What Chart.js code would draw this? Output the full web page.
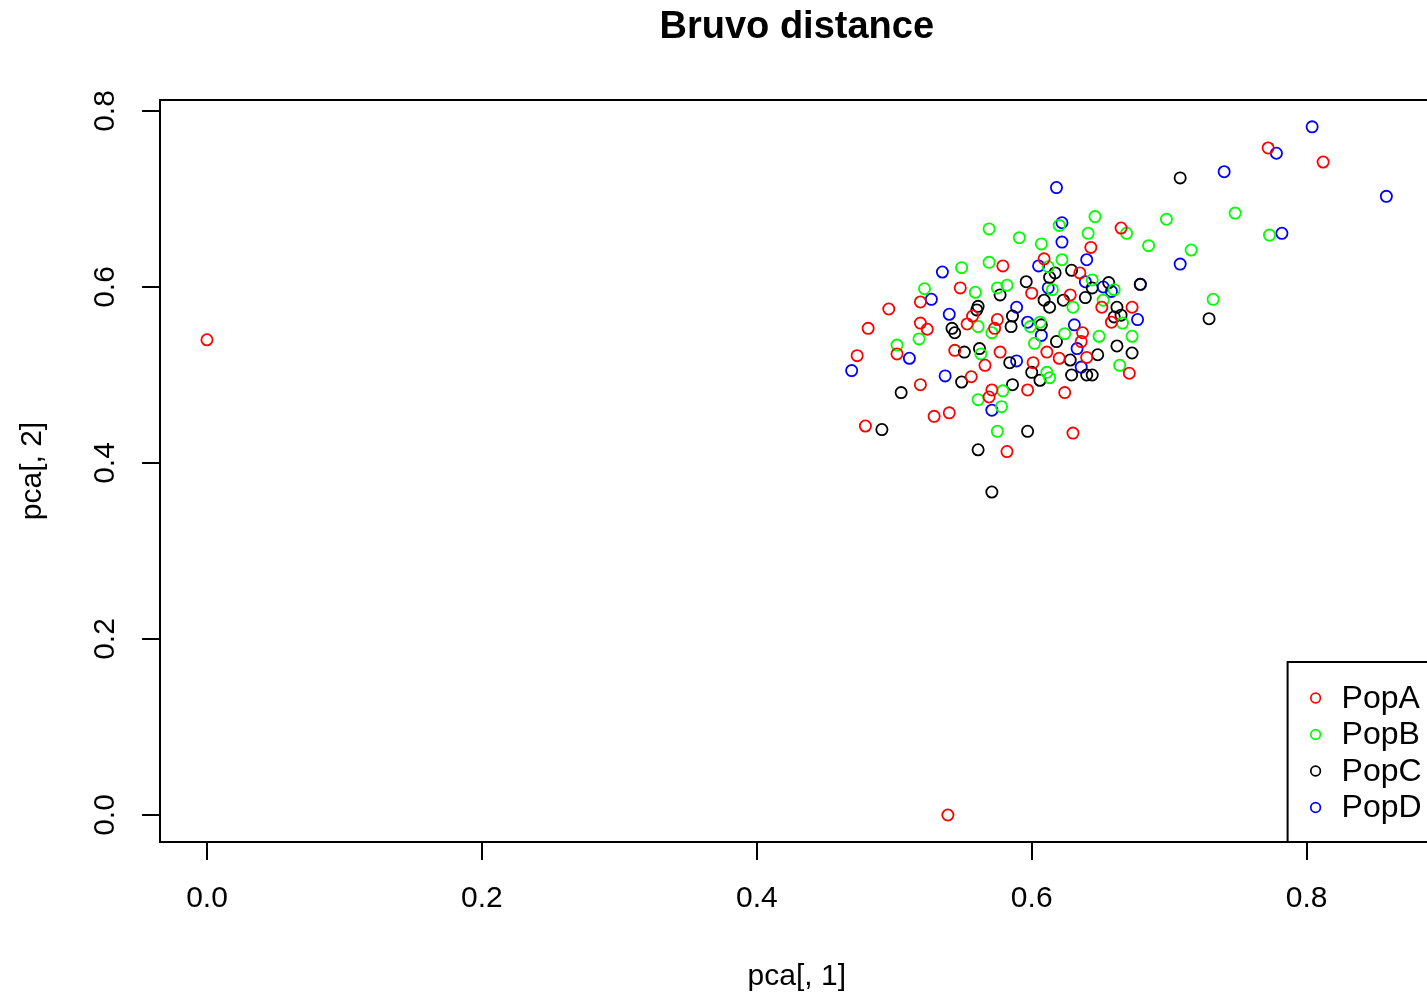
<!DOCTYPE html>
<html><head><meta charset="utf-8">
<script src="https://cdn.jsdelivr.net/npm/chart.js@4/dist/chart.umd.min.js"></script>
<style>
html,body{margin:0;padding:0;overflow:hidden;background:#fff;width:1427px;height:995px}
#clip{width:1427px;height:995px;overflow:hidden;position:relative}
#wrap{position:absolute;left:0;top:0;width:1441px;height:995px}
canvas{display:block}
</style>
</head><body>
<div id="clip"><div id="wrap"><canvas id="c"></canvas></div></div>
<script>
// ---- data ----
const popA_x = [0, 0.539, 0.772, 0.812, 0.665, 0.643, 0.609, 0.579, 0.635, 0.548, 0.600, 0.496, 0.519, 0.628, 0.651, 0.673, 0.557, 0.575, 0.481, 0.519, 0.524, 0.553, 0.573, 0.637, 0.636, 0.611, 0.544, 0.577, 0.473, 0.502, 0.620, 0.640, 0.566, 0.601, 0.671, 0.556, 0.519, 0.571, 0.569, 0.597, 0.624, 0.529, 0.540, 0.479, 0.582, 0.630, 0.658];
const popA_y = [0.540, 0.000, 0.758, 0.742, 0.667, 0.645, 0.632, 0.624, 0.616, 0.599, 0.593, 0.575, 0.583, 0.591, 0.577, 0.577, 0.567, 0.563, 0.553, 0.559, 0.552, 0.558, 0.553, 0.548, 0.538, 0.526, 0.528, 0.526, 0.522, 0.524, 0.519, 0.520, 0.511, 0.514, 0.502, 0.498, 0.489, 0.483, 0.475, 0.483, 0.480, 0.453, 0.457, 0.442, 0.413, 0.434, 0.560];

const popB_x = [0.646, 0.620, 0.641, 0.669, 0.685, 0.698, 0.748, 0.773, 0.716, 0.732, 0.569, 0.591, 0.607, 0.612, 0.569, 0.549, 0.622, 0.559, 0.582, 0.575, 0.522, 0.606, 0.644, 0.630, 0.652, 0.666, 0.624, 0.649, 0.561, 0.571, 0.599, 0.518, 0.502, 0.563, 0.602, 0.611, 0.613, 0.664, 0.579, 0.561, 0.578, 0.575, 0.673, 0.660, 0.615];
const popB_y = [0.680, 0.670, 0.661, 0.661, 0.647, 0.677, 0.684, 0.659, 0.642, 0.586, 0.666, 0.656, 0.649, 0.623, 0.628, 0.622, 0.631, 0.594, 0.602, 0.599, 0.598, 0.560, 0.608, 0.577, 0.585, 0.559, 0.547, 0.544, 0.555, 0.548, 0.555, 0.541, 0.534, 0.524, 0.536, 0.503, 0.497, 0.511, 0.482, 0.472, 0.464, 0.436, 0.544, 0.597, 0.597];

const popC_x = [0.708, 0.729, 0.679, 0.629, 0.617, 0.613, 0.596, 0.577, 0.656, 0.644, 0.639, 0.623, 0.609, 0.613, 0.561, 0.560, 0.586, 0.662, 0.660, 0.665, 0.542, 0.544, 0.585, 0.607, 0.551, 0.562, 0.584, 0.600, 0.606, 0.549, 0.586, 0.505, 0.491, 0.597, 0.561, 0.571, 0.662, 0.673, 0.628, 0.648, 0.629, 0.640, 0.644, 0.618];
const popC_y = [0.724, 0.564, 0.603, 0.619, 0.616, 0.611, 0.606, 0.591, 0.605, 0.599, 0.588, 0.585, 0.585, 0.577, 0.578, 0.574, 0.567, 0.577, 0.566, 0.568, 0.553, 0.548, 0.555, 0.557, 0.526, 0.530, 0.514, 0.503, 0.494, 0.492, 0.489, 0.480, 0.438, 0.436, 0.415, 0.367, 0.533, 0.525, 0.517, 0.523, 0.500, 0.500, 0.500, 0.538];

const popD_x = [0.804, 0.778, 0.740, 0.858, 0.782, 0.708, 0.618, 0.622, 0.622, 0.640, 0.605, 0.535, 0.612, 0.639, 0.652, 0.658, 0.679, 0.527, 0.540, 0.589, 0.597, 0.677, 0.631, 0.607, 0.633, 0.636, 0.511, 0.469, 0.537, 0.589, 0.571];
const popD_y = [0.782, 0.752, 0.731, 0.703, 0.661, 0.626, 0.713, 0.673, 0.651, 0.631, 0.624, 0.617, 0.599, 0.606, 0.600, 0.595, 0.603, 0.586, 0.569, 0.577, 0.560, 0.563, 0.557, 0.545, 0.530, 0.509, 0.519, 0.505, 0.499, 0.516, 0.460];

const seriesNames = ['PopA', 'PopB', 'PopC', 'PopD'];
const seriesColors = ['#FF0000', '#00FF00', '#000000', '#0000FF'];
const xTickValues = [0, 0.2, 0.4, 0.6, 0.8];
const yTickValues = [0, 0.2, 0.4, 0.6, 0.8];
const chartTitle = 'Bruvo distance';
const xTitle = 'pca[, 1]';
const yTitle = 'pca[, 2]';

const xs = [popA_x, popB_x, popC_x, popD_x];
const ys = [popA_y, popB_y, popC_y, popD_y];

const FONT = '"Liberation Sans", Arial, Helvetica, sans-serif';

const datasets = seriesNames.map((name, i) => ({
  label: name,
  data: xs[i].map((x, j) => ({x: x, y: ys[i][j]})),
  borderColor: seriesColors[i],
  backgroundColor: 'rgba(0,0,0,0)',
  pointRadius: 5.6,
  pointBorderWidth: 1.8,
  pointHoverRadius: 5.6,
  showLine: false
}));

const boxPlugin = {
  id: 'rbox',
  afterDraw(chart) {
    const {ctx, chartArea: a} = chart;
    ctx.save();
    ctx.strokeStyle = '#000';
    ctx.lineWidth = 2;
    ctx.strokeRect(a.left, a.top, a.right - a.left, a.bottom - a.top);
    // legend box in the bottom-right corner of the plot
    const lx = a.right - 146, ly = a.bottom - 180;
    ctx.fillStyle = '#fff';
    ctx.fillRect(lx, ly, a.right - lx + 20, a.bottom - ly);
    ctx.strokeRect(lx, ly, a.right - lx + 20, a.bottom - ly);
    ctx.font = '32px ' + FONT;
    ctx.textBaseline = 'middle';
    ctx.textAlign = 'left';
    chart.data.datasets.forEach((ds, i) => {
      const cy = ly + 36 + i * 36.5;
      ctx.beginPath();
      ctx.arc(lx + 28, cy, 4.8, 0, Math.PI * 2);
      ctx.strokeStyle = ds.borderColor;
      ctx.lineWidth = 1.7;
      ctx.stroke();
      ctx.fillStyle = '#000';
      ctx.fillText(ds.label, lx + 54, cy + 1);
    });
    ctx.restore();
  }
};

new Chart(document.getElementById('c'), {
  type: 'scatter',
  data: {datasets},
  options: {
    responsive: true,
    maintainAspectRatio: false,
    devicePixelRatio: 1,
    animation: false,
    events: [],
    layout: {padding: 0},
    plugins: {
      legend: {display: false},
      tooltip: {enabled: false},
      title: {
        display: true,
        fullSize: false,
        text: chartTitle,
        color: '#000',
        font: {family: FONT, size: 38, weight: 'bold', lineHeight: 1.2},
        padding: {top: 5, bottom: 49.4}
      }
    },
    scales: {
      x: {
        type: 'linear',
        min: -47 / 1375,
        max: 1227 / 1375,
        afterBuildTicks: s => { s.ticks = xTickValues.map(v => ({value: v})); },
        afterFit: s => { s.height = 153; },
        border: {display: false},
        grid: {drawOnChartArea: false, drawTicks: true, tickLength: 18, color: '#000', lineWidth: 2},
        ticks: {
          autoSkip: false, maxRotation: 0, minRotation: 0, padding: 21, color: '#000',
          font: {family: FONT, size: 30},
          callback: v => Number(v).toFixed(1)
        },
        title: {display: true, text: xTitle, color: '#000', font: {family: FONT, size: 30}, padding: {top: 0, bottom: 0}}
      },
      y: {
        type: 'linear',
        min: -27 / 880,
        max: 0.8 + 11 / 880,
        afterBuildTicks: s => { s.ticks = yTickValues.map(v => ({value: v})); },
        afterFit: s => { s.width = 160; },
        border: {display: false},
        grid: {drawOnChartArea: false, drawTicks: true, tickLength: 18, color: '#000', lineWidth: 2},
        ticks: {
          autoSkip: false, minRotation: 90, maxRotation: 90, crossAlign: 'center', padding: 15, color: '#000',
          font: {family: FONT, size: 30},
          callback: v => Number(v).toFixed(1)
        },
        title: {display: true, text: yTitle, color: '#000', font: {family: FONT, size: 30}, padding: {top: 15, bottom: 0}}
      }
    }
  },
  plugins: [boxPlugin]
});
</script>
</body></html>
